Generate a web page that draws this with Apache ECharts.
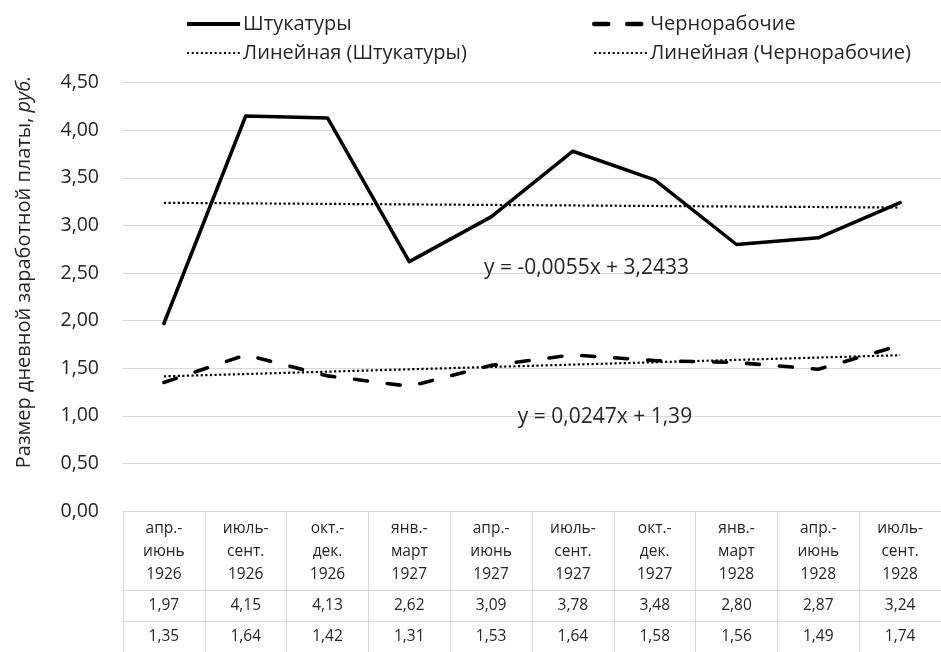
<!DOCTYPE html>
<html>
<head>
<meta charset="utf-8">
<script src="https://cdn.jsdelivr.net/npm/echarts@6/dist/echarts.min.js"></script>
<style>html,body{margin:0;padding:0;background:#fff}#c{width:941px;height:652px}</style>
</head>
<body>
<div id="c"></div>
<script>
const categories = ['апр.-\nиюнь\n1926','июль-\nсент.\n1926','окт.-\nдек.\n1926','янв.-\nмарт\n1927','апр.-\nиюнь\n1927','июль-\nсент.\n1927','окт.-\nдек.\n1927','янв.-\nмарт\n1928','апр.-\nиюнь\n1928','июль-\nсент.\n1928'];
const shtuk = [1.97, 4.15, 4.13, 2.62, 3.09, 3.78, 3.48, 2.80, 2.87, 3.24];
const chern = [1.35, 1.64, 1.42, 1.31, 1.53, 1.64, 1.58, 1.56, 1.49, 1.74];
const trendShtuk = [3.2378, 3.2323, 3.2268, 3.2213, 3.2158, 3.2103, 3.2048, 3.1993, 3.1938, 3.1883];
const trendChern = [1.4147, 1.4394, 1.4641, 1.4888, 1.5135, 1.5382, 1.5629, 1.5876, 1.6123, 1.6370];
const seriesNames = ['Штукатуры', 'Чернорабочие', 'Линейная (Штукатуры)', 'Линейная (Чернорабочие)'];
const eqShtuk = 'y = -0,0055x + 3,2433';
const eqChern = 'y = 0,0247x + 1,39';
const yTitle = 'Размер дневной заработной платы, ';
const yTitleItalic = 'руб.';

const FONT = "'Open Sans', 'Noto Sans', sans-serif";
const TXT = '#262626';
const GRID = '#d9d9d9';
const fmt = v => v.toFixed(2).replace('.', ',');

const chart = echarts.init(document.getElementById('c'));
const baseX = {
  type: 'category', data: categories, gridIndex: 0, position: 'bottom',
  boundaryGap: true,
  axisLine: {show: true, lineStyle: {color: GRID, width: 1}},
  splitLine: {show: false}
};
const legendBase = {
  top: 12, orient: 'vertical', itemWidth: 53, itemHeight: 14, itemGap: 5, padding: 0,
  itemStyle: {opacity: 0},
  textStyle: {fontFamily: FONT, fontSize: 20, color: TXT, lineHeight: 24, padding: [0, 0, 0, -2]}
};
const solidLeg = {color: '#000', width: 4.2, type: 'solid', cap: 'butt'};
const dashLeg = {color: '#000', width: 4.5, type: [14, 19], cap: 'round'};
const dotLeg = {color: '#000', width: 2, type: [2, 2.6], cap: 'butt'};
chart.setOption({
  animation: false,
  textStyle: {fontFamily: FONT},
  grid: {left: 123, right: -15, top: 82.7, bottom: 136},
  legend: [
    Object.assign({}, legendBase, {left: 185, data: [
      {name: seriesNames[0], lineStyle: solidLeg},
      {name: seriesNames[2], lineStyle: dotLeg}]}),
    Object.assign({}, legendBase, {left: 592, data: [
      {name: seriesNames[1], lineStyle: dashLeg},
      {name: seriesNames[3], lineStyle: dotLeg}]})
  ],
  xAxis: [
    Object.assign({}, baseX, {
      axisTick: {show: true, interval: 0, length: 79, lineStyle: {color: GRID}},
      axisLabel: {interval: 0, margin: 6.5, fontSize: 15.5, lineHeight: 23, color: TXT, fontFamily: FONT}
    }),
    Object.assign({}, baseX, {
      offset: 79,
      axisTick: {show: true, interval: 0, length: 31, lineStyle: {color: GRID}},
      axisLabel: {interval: 0, margin: 0, fontSize: 15.5, lineHeight: 31, color: TXT, fontFamily: FONT,
        formatter: (v, i) => fmt(shtuk[i])}
    }),
    Object.assign({}, baseX, {
      offset: 110,
      axisTick: {show: true, interval: 0, length: 40, lineStyle: {color: GRID}},
      axisLabel: {interval: 0, margin: 0, fontSize: 15.5, lineHeight: 31, color: TXT, fontFamily: FONT,
        formatter: (v, i) => fmt(chern[i])}
    })
  ],
  yAxis: {
    type: 'value', min: 0, max: 4.5, interval: 0.5,
    axisLine: {show: false}, axisTick: {show: false},
    splitLine: {lineStyle: {color: GRID, width: 1}},
    axisLabel: {formatter: v => fmt(v), fontSize: 19.5, color: TXT, margin: 24, fontFamily: FONT}
  },
  series: [
    {name: seriesNames[0], type: 'line', data: shtuk, symbol: 'none', z: 3,
     lineStyle: {color: '#000', width: 3.5, cap: 'round', join: 'round'}, itemStyle: {color: '#000'}},
    {name: seriesNames[1], type: 'line', data: chern, symbol: 'none', z: 3,
     lineStyle: {color: '#000', width: 3.6, type: [13, 20], cap: 'round'}, itemStyle: {color: '#000'}},
    {name: seriesNames[2], type: 'line', data: trendShtuk, symbol: 'none', z: 2,
     lineStyle: {color: '#000', width: 2.2, type: [2.2, 2.4]}, itemStyle: {color: '#000'}},
    {name: seriesNames[3], type: 'line', data: trendChern, symbol: 'none', z: 2,
     lineStyle: {color: '#000', width: 2.2, type: [2.2, 2.4]}, itemStyle: {color: '#000'}}
  ],
  graphic: [
    {type: 'text', x: 24, y: 272, rotation: Math.PI / 2, z: 10,
     style: {text: '{a|' + yTitle + '}{b|' + yTitleItalic + '}', align: 'center', verticalAlign: 'middle',
       rich: {a: {fontFamily: FONT, fontSize: 20, fill: TXT}, b: {fontFamily: FONT, fontSize: 20, fontStyle: 'italic', fill: TXT}}}},
    {type: 'text', x: 586.5, y: 268, z: 10,
     style: {text: eqShtuk, align: 'center', verticalAlign: 'middle', fontFamily: FONT, fontSize: 21, fill: TXT}},
    {type: 'text', x: 605, y: 417, z: 10,
     style: {text: eqChern, align: 'center', verticalAlign: 'middle', fontFamily: FONT, fontSize: 21, fill: TXT}}
  ]
});
</script>
</body>
</html>
